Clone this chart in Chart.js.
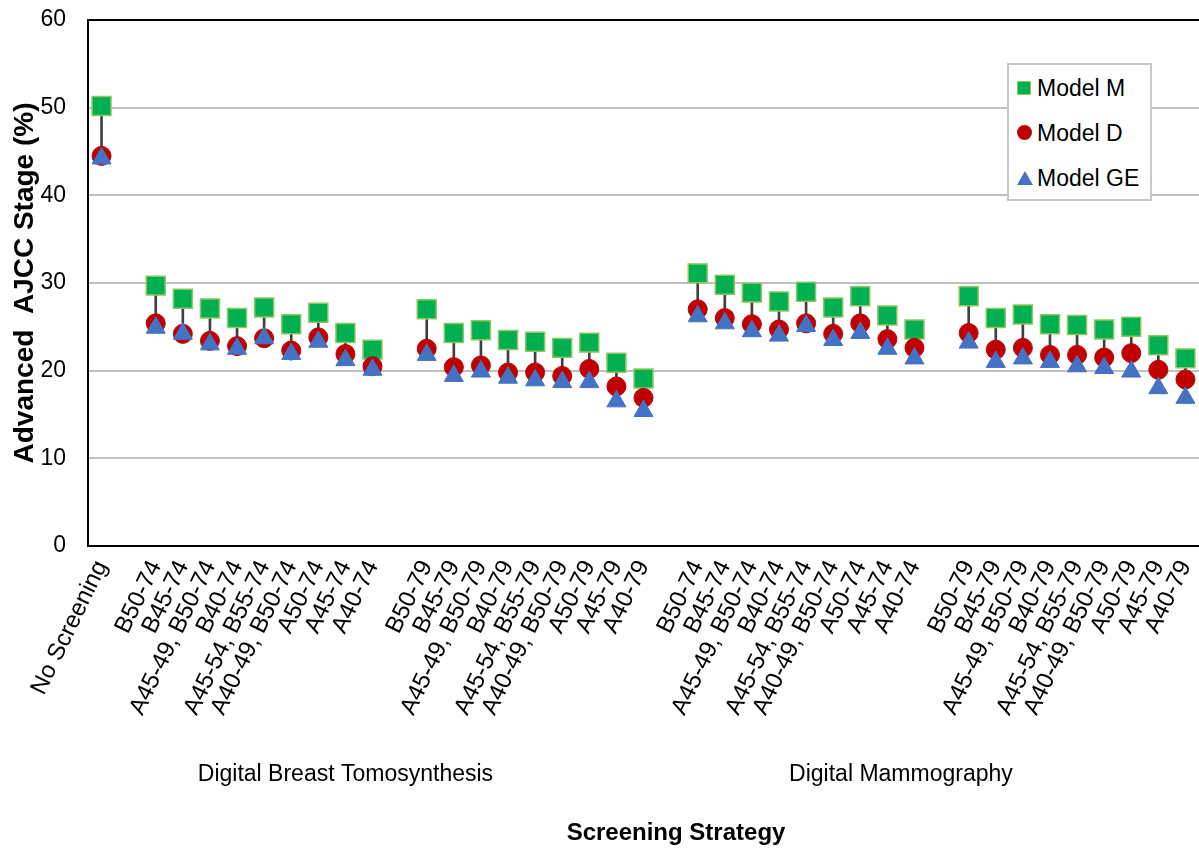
<!DOCTYPE html>
<html>
<head>
<meta charset="utf-8">
<script src="https://cdn.jsdelivr.net/npm/chart.js@4.4.0/dist/chart.umd.min.js"></script>
<style>
  html, body { margin: 0; padding: 0; background: #fff; overflow: hidden; }
  #wrap { position: relative; width: 1199px; height: 850px; }
  #chart { display: block; }
  #legend {
    position: absolute; left: 1007px; top: 63px; width: 141px; height: 134px;
    border: 2px solid #c8c8c8; background: #fff;
    font-family: "Liberation Sans", Arial, sans-serif; font-size: 23px; color: #000;
  }
  .item { position: absolute; left: 8px; height: 26px; line-height: 26px; white-space: nowrap; }
  .item span.txt { position: absolute; left: 20px; top: 0; }
  .sq { position: absolute; left: 0; top: 6px; width: 12px; height: 12px; background: #00b050; border: 1.5px solid #8cc862; }
  .ci { position: absolute; left: 0; top: 5px; width: 15px; height: 15px; border-radius: 50%; background: #c00000; }
  .tr { position: absolute; left: 0; top: 6px; width: 0; height: 0; border-left: 8px solid transparent; border-right: 8px solid transparent; border-bottom: 14px solid #4472c4; }
</style>
</head>
<body>
<div id="wrap">
  <canvas id="chart" width="1199" height="850"></canvas>
  <div id="legend">
    <div class="item" style="top:10px"><span class="sq"></span><span class="txt">Model M</span></div>
    <div class="item" style="top:55px"><span class="ci"></span><span class="txt">Model D</span></div>
    <div class="item" style="top:100px"><span class="tr"></span><span class="txt">Model GE</span></div>
  </div>
</div>
<script>
// strategy labels
const strat74 = ['B50-74', 'B45-74', 'A45-49, B50-74', 'B40-74', 'A45-54, B55-74', 'A40-49, B50-74', 'A50-74', 'A45-74', 'A40-74'];
const strat79 = ['B50-79', 'B45-79', 'A45-49, B50-79', 'B40-79', 'A45-54, B55-79', 'A40-49, B50-79', 'A50-79', 'A45-79', 'A40-79'];
const groupNames = ['Digital Breast Tomosynthesis', 'Digital Mammography'];
const yTicks = [0, 10, 20, 30, 40, 50, 60];

// No screening
const noScrM = 50.2, noScrD = 44.5, noScrGE = 44.2;

// Digital Breast Tomosynthesis
const dbt74M  = [29.7, 28.2, 27.1, 26.0, 27.2, 25.3, 26.6, 24.3, 22.4];
const dbt74D  = [25.4, 24.2, 23.4, 22.8, 23.7, 22.3, 23.8, 21.9, 20.5];
const dbt74GE = [24.9, 24.2, 23.0, 22.5, 23.7, 21.9, 23.3, 21.2, 20.1];
const dbt79M  = [27.0, 24.3, 24.6, 23.5, 23.3, 22.6, 23.2, 20.9, 19.1];
const dbt79D  = [22.5, 20.4, 20.6, 19.8, 19.8, 19.4, 20.2, 18.2, 16.9];
const dbt79GE = [21.8, 19.4, 19.9, 19.2, 18.9, 18.7, 18.7, 16.5, 15.4];

// Digital Mammography
const dm74M  = [31.1, 29.8, 28.9, 27.9, 29.0, 27.2, 28.5, 26.3, 24.7];
const dm74D  = [27.0, 26.0, 25.3, 24.7, 25.4, 24.2, 25.4, 23.6, 22.6];
const dm74GE = [26.2, 25.4, 24.5, 24.0, 25.1, 23.5, 24.3, 22.5, 21.4];
const dm79M  = [28.5, 26.0, 26.4, 25.3, 25.2, 24.7, 25.0, 22.9, 21.4];
const dm79D  = [24.3, 22.4, 22.6, 21.8, 21.8, 21.5, 22.0, 20.1, 19.0];
const dm79GE = [23.2, 21.0, 21.4, 21.0, 20.5, 20.3, 19.9, 18.0, 16.9];

// category layout with blank slots between groups
const labels = ['No Screening', ''].concat(strat74, [''], strat79, [''], strat74, [''], strat79);
function row(ns, a, b, c, d) {
  return [ns, null].concat(a, [null], b, [null], c, [null], d);
}
const modelM  = row(noScrM, dbt74M, dbt79M, dm74M, dm79M);
const modelD  = row(noScrD, dbt74D, dbt79D, dm74D, dm79D);
const modelGE = row(noScrGE, dbt74GE, dbt79GE, dm74GE, dm79GE);
// high-low connector from top marker to bottom marker
const hiLo = modelM.map((v, i) => v === null ? null :
  [Math.min(v, modelD[i], modelGE[i]), Math.max(v, modelD[i], modelGE[i])]);

const FONT = '"Liberation Sans", Arial, sans-serif';
Chart.defaults.font.family = FONT;
Chart.defaults.color = '#000';

// group names under the category labels + axis title
const groupText = {
  id: 'groupText',
  afterDraw(chart) {
    const ctx = chart.ctx, x = chart.scales.x;
    ctx.save();
    ctx.fillStyle = '#000';
    ctx.textAlign = 'center';
    ctx.textBaseline = 'middle';
    ctx.font = '23px ' + FONT;
    ctx.fillText(groupNames[0], x.getPixelForValue(9), 775);
    ctx.fillText(groupNames[1], x.getPixelForValue(29.5), 775);
    ctx.font = 'bold 24px ' + FONT;
    ctx.fillText('Screening Strategy', x.getPixelForValue(21.2), 833);
    ctx.restore();
  }
};

new Chart(document.getElementById('chart').getContext('2d'), {
  type: 'bar',
  data: {
    labels: labels,
    datasets: [
      {
        label: 'range',
        data: hiLo,
        backgroundColor: '#404040',
        barThickness: 2,
        order: 4
      },
      {
        type: 'line',
        label: 'Model M',
        data: modelM,
        showLine: false,
        pointStyle: 'rect',
        pointRadius: 13.4,
        pointBackgroundColor: '#00b050',
        pointBorderColor: '#8cc862',
        pointBorderWidth: 1.5,
        order: 3
      },
      {
        type: 'line',
        label: 'Model D',
        data: modelD,
        showLine: false,
        pointStyle: 'circle',
        pointRadius: 9.5,
        pointBackgroundColor: '#c00000',
        pointBorderColor: '#c00000',
        pointBorderWidth: 1,
        order: 2
      },
      {
        type: 'line',
        label: 'Model GE',
        data: modelGE,
        showLine: false,
        pointStyle: 'triangle',
        pointRadius: 11,
        pointBackgroundColor: '#4472c4',
        pointBorderColor: '#4472c4',
        pointBorderWidth: 1,
        order: 1
      }
    ]
  },
  options: {
    responsive: false,
    animation: false,
    layout: { autoPadding: false, padding: { top: 20, right: 0, bottom: 0, left: 0 } },
    plugins: {
      legend: { display: false },
      tooltip: { enabled: false }
    },
    scales: {
      x: {
        offset: true,
        grid: { display: false },
        border: { display: true, color: '#000', width: 2 },
        ticks: {
          autoSkip: false,
          minRotation: 64,
          maxRotation: 64,
          padding: 2,
          color: '#000',
          font: { size: 24 }
        },
        afterFit(s) { s.height = 304; s.paddingRight = 0; s.paddingLeft = 0; }
      },
      y: {
        min: 0,
        max: 60,
        afterBuildTicks(s) { s.ticks = yTicks.map(v => ({ value: v })); },
        grid: {
          color: c => (c.tick && c.tick.value === 60) ? '#000' : '#c0c0c0',
          lineWidth: 2,
          drawTicks: false
        },
        border: { display: true, color: '#000', width: 2 },
        ticks: { padding: 22, color: '#000', font: { size: 23 } },
        title: {
          display: true,
          text: 'Advanced  AJCC Stage (%)',
          font: { size: 28, weight: 'bold' },
          padding: { top: 8, bottom: 0 }
        },
        afterFit(s) { s.width = 88; s.paddingTop = 0; s.paddingBottom = 0; }
      }
    }
  },
  plugins: [groupText]
});
</script>
</body>
</html>
